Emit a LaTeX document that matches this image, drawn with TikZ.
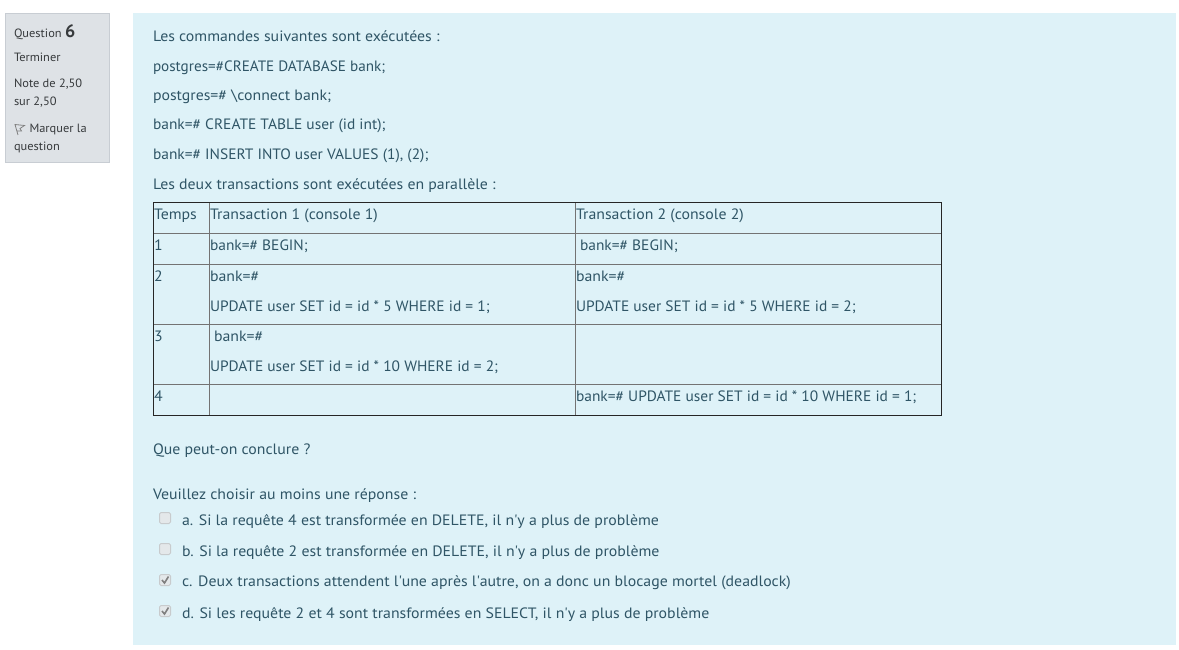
\documentclass[tikz,border=0pt]{standalone}
\usepackage{fontspec}
\setmainfont{PT Sans}
\newfontfamily\mainf[FakeStretch=1.055]{PT Sans}
\newfontfamily\capsf[FakeStretch=1.03]{PT Sans}
\newfontfamily\capsg[FakeStretch=1.012]{PT Sans}
\newfontfamily\sidef[FakeStretch=1.035]{PT Sans}
\definecolor{panel}{HTML}{DEF2F8}
\definecolor{side}{HTML}{DEE2E6}
\definecolor{sideline}{HTML}{C8CDD3}
\definecolor{txt}{HTML}{2F5566}
\definecolor{sidetxt}{HTML}{373A3C}
\definecolor{chkline}{HTML}{C8CBCD}
\definecolor{chkfill}{HTML}{E4E8EA}
\tikzset{
 t/.style={anchor=base west,inner sep=0pt,outer sep=0pt,text=txt,font=\mainf\fontsize{15}{17}\selectfont},
 tc/.style={t,font=\capsf\fontsize{15}{17}\selectfont},
 tg/.style={t,font=\capsg\fontsize{15}{17}\selectfont},
 s/.style={anchor=base west,inner sep=0pt,outer sep=0pt,text=sidetxt,font=\sidef\fontsize{12}{14}\selectfont},
 box/.style={draw=chkline,fill=chkfill,line width=1pt,rounded corners=1.5pt},
 tick/.style={black!50,line width=1.6pt},
}
\begin{document}
\begin{tikzpicture}[x=1pt,y=-1pt]
\useasboundingbox (0,0) rectangle (1179,650);
\fill[white] (0,0) rectangle (1179,650);
\fill[panel] (133,13) rectangle (1176,645);
\draw[draw=sideline,fill=side,line width=1pt] (5.5,13.5) rectangle (109.5,162.5);
\node[s] (q) at (14,38) {Question};
\node[anchor=base west,inner sep=0pt,text=sidetxt,font=\fontsize{18}{20}\selectfont\bfseries] (qn) at (65,37.5) {6};
\node[s] at (14,62) {Terminer};
\node[s] at (14,88) {Note de 2,50};
\node[s] at (14,106) {sur 2,50};
\draw[gray,line width=.8pt] (18,135) -- (15,124.5) -- (24.5,125.5) -- (20,128.5) -- (21.5,131) -- (16.5,131);
\node[s] at (29.5,133) {Marquer la};
\node[s] at (14,151) {question};
\node[t] at (153,41.7) {Les commandes suivantes sont exécutées :};
\node[tg] at (153,71.7) {postgres=\#CREATE DATABASE bank;};
\node[t] at (153,100.7) {postgres=\# \textbackslash connect bank;};
\node[tc] at (153,130) {bank=\# CREATE TABLE user (id int);};
\node[tc] at (153,159.7) {bank=\# INSERT INTO user VALUES (1), (2);};
\node[t] at (153,189.7) {Les deux transactions sont exécutées en parallèle :};
% table
\draw[color=black!55,line width=1pt] (153.5,233.5) -- (941.5,233.5) (153.5,264.5) -- (941.5,264.5) (153.5,324.5) -- (941.5,324.5) (153.5,384.5) -- (941.5,384.5) (209.5,202.5) -- (209.5,415.5) (575.5,202.5) -- (575.5,415.5);
\draw[color=black!85,line width=1pt] (153.5,202.5) rectangle (941.5,415.5);
\node[t] at (154,219) {Temps};
\node[t] at (210,219) {Transaction 1 (console 1)};
\node[t] at (576,219) {Transaction 2 (console 2)};
\node[t] at (154,250.7) {1};
\node[tc] at (210,250.7) {bank=\# BEGIN;};
\node[tc] at (580,250.7) {bank=\# BEGIN;};
\node[t] at (154,281) {2};
\node[t] at (210,281) {bank=\#};
\node[t] at (576,281) {bank=\#};
\node[tc] at (210,311) {UPDATE user SET id = id * 5 WHERE id = 1;};
\node[tc] at (576,311) {UPDATE user SET id = id * 5 WHERE id = 2;};
\node[t] at (154,341) {3};
\node[t] at (214,341) {bank=\#};
\node[tc] at (210,371) {UPDATE user SET id = id * 10 WHERE id = 2;};
\node[t] at (154,401) {4};
\node[tc] at (576,401) {bank=\# UPDATE user SET id = id * 10 WHERE id = 1;};
\node[t] at (153,454) {Que peut-on conclure ?};
\node[t] at (153,499) {Veuillez choisir au moins une réponse :};
\draw[box] (159.5,512.5) rectangle (170.5,523.5);
\draw[box] (159.5,543.5) rectangle (170.5,554.5);
\draw[box] (159.5,574.5) rectangle (170.5,585.5);
\draw[box] (159.5,605.5) rectangle (170.5,616.5);
\draw[tick] (162,580) -- (164.5,583) -- (168.5,576.5);
\draw[tick] (162,611) -- (164.5,614) -- (168.5,607.5);
\node[t] at (182,525) {a. Si la requête 4 est transformée en DELETE, il n\textquotesingle y a plus de problème};
\node[t] at (182,556) {b. Si la requête 2 est transformée en DELETE, il n\textquotesingle y a plus de problème};
\node[t] at (182,586.5) {c. Deux transactions attendent l\textquotesingle une après l\textquotesingle autre, on a donc un blocage mortel (deadlock)};
\node[t] at (182,618) {d. Si les requête 2 et 4 sont transformées en SELECT, il n\textquotesingle y a plus de problème};
\end{tikzpicture}
\end{document}
